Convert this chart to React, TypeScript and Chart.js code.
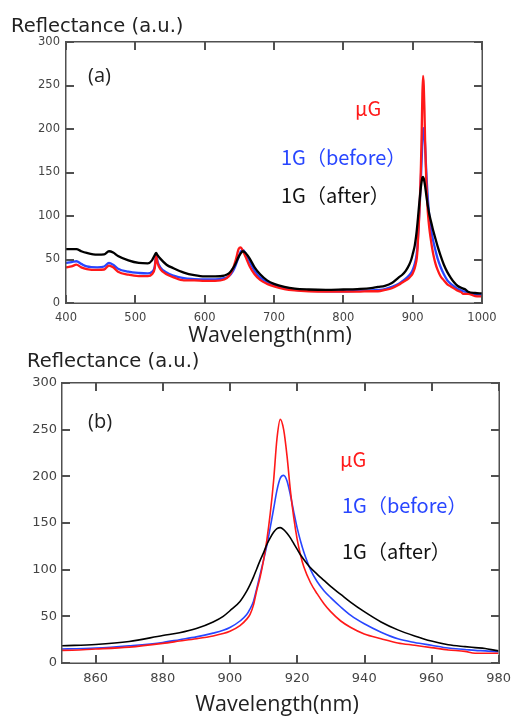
import React, { useEffect, useRef } from "react";
import { Chart, registerables } from "chart.js";

Chart.register(...registerables);

// ---- data ----
const wavelengths = [400, 408, 415, 422, 430, 445, 455, 462, 468, 475, 490, 505, 518, 524, 528, 530, 532, 536, 545, 555, 570, 585, 600, 615, 628, 635, 641, 645, 649, 652, 655, 659, 665, 672, 680, 690, 700, 715, 730, 750, 775, 800, 820, 840, 850, 860, 870, 880, 885, 890, 895, 898, 900, 903, 905, 906, 907, 908, 909, 910, 911, 912, 913, 914, 915, 916, 917, 918, 919, 920, 921, 922, 924, 926, 928, 930, 933, 936, 940, 945, 950, 955, 960, 965, 970, 973, 976, 980, 990, 1000];

const afterValues = [62, 62, 62, 59.5, 57.5, 55.5, 56, 59.5, 58, 54, 49, 46, 45.5, 49, 55, 57.5, 55, 51, 44, 40, 35, 32, 30.5, 30.5, 31.5, 34, 40, 46, 53, 57, 59.5, 57.5, 51, 41, 33, 26, 22, 18.5, 16.5, 15.5, 15, 15.5, 16, 17, 18.5, 19.8, 23, 29.5, 32.5, 37, 44, 50, 56, 66, 77, 84, 92, 101, 110, 118, 127, 134, 140, 144, 145, 143, 139, 134, 128, 122, 116, 111, 102, 95, 88.5, 82, 73.5, 65, 55, 44, 35.5, 29, 23.5, 19.5, 17.5, 16.5, 15.5, 13, 11.5, 11];

const beforeValues = [46, 47, 48, 45, 42, 41, 42, 46, 44, 39.5, 36, 34.5, 34, 36, 42, 56, 48, 41, 35, 31.5, 28.5, 27.5, 27, 27, 28.5, 31, 37, 44, 53, 59, 61, 57, 47, 37, 29.5, 24, 20.5, 17, 15, 14, 13.5, 13.5, 14, 14.5, 15, 16, 18.5, 22, 25, 28, 32, 35, 38, 45, 52, 58, 66, 80, 95, 110, 126, 145, 165, 185, 198, 201, 195, 180, 162, 145, 131, 119, 100, 87, 77.5, 70, 60, 51, 42, 33, 26, 22, 19, 16, 14.5, 13.5, 13, 12, 10, 9.5];

const muGValues = [41, 42, 44, 41, 39, 38, 38.5, 43, 41, 36, 32.5, 31, 31, 33, 40, 54, 46, 39, 33, 29.5, 26, 26, 25.5, 25.5, 27, 31, 40, 50, 62, 64, 60, 53, 42, 33, 26.5, 22, 19, 16, 14.5, 13.5, 13, 13, 13, 13.5, 13.5, 15, 17, 21, 23.5, 26, 29, 31.5, 34, 40, 47, 52, 62, 78, 92, 110, 132, 160, 195, 240, 261, 250, 222, 185, 156, 133, 116, 103, 86, 74, 63.5, 55, 45, 38, 31, 26, 21.5, 19, 16.5, 14, 12.5, 10.5, 10.5, 10.5, 8, 7.5];

const xTicksA = [400, 500, 600, 700, 800, 900, 1000];
const xTicksB = [860, 880, 900, 920, 940, 960, 980];
const yTicks = [0, 50, 100, 150, 200, 250, 300];

const seriesNames = ["μG", "1G（before）", "1G（after）"];
const seriesColors = ["rgb(255,25,25)", "rgb(40,70,255)", "#000000"];

const FRAME_COLOR = "#505050";
const TICK_LEN = 8;
const TICK_W = 2;

const pts = (vals: number[]) => wavelengths.map((x, i) => ({ x, y: vals[i] }));

type Txt = { text: string; x: number; y: number; font: string; color: string; align?: string };

function makeDecor(texts: Txt[], xTickVals: number[], xMin: number, xMax: number, yMin: number, yMax: number) {
  return {
    id: "decor",
    afterDraw(chart: any) {
      const ctx = chart.ctx as CanvasRenderingContext2D;
      const ca = chart.chartArea;
      const left = Math.round(ca.left);
      const right = Math.round(ca.right);
      const top = Math.round(ca.top);
      const bottom = Math.round(ca.bottom);
      const xPix = (v: number) => left + ((v - xMin) / (xMax - xMin)) * (right - left);
      const yPix = (v: number) => bottom - ((v - yMin) / (yMax - yMin)) * (bottom - top);
      ctx.save();
      ctx.globalAlpha = 1;
      ctx.globalCompositeOperation = "source-over";
      ctx.fillStyle = FRAME_COLOR;
      // frame
      ctx.fillRect(left - 1, top - 1, right - left + 2, 1.5);
      ctx.fillRect(left - 1, bottom - 0.5, right - left + 2, 1.5);
      ctx.fillRect(left - 1, top - 1, 1.5, bottom - top + 2);
      ctx.fillRect(right - 0.5, top - 1, 1.5, bottom - top + 2);
      // inward ticks on all four sides
      for (let i = 0; i < xTickVals.length; i++) {
        const px = Math.round(xPix(xTickVals[i]));
        ctx.fillRect(px - 1, bottom - TICK_LEN, TICK_W, TICK_LEN);
        ctx.fillRect(px - 1, top, TICK_W, TICK_LEN);
      }
      for (let i = 0; i < yTicks.length; i++) {
        const py = Math.round(yPix(yTicks[i]));
        ctx.fillRect(left, py - 1, TICK_LEN, TICK_W);
        ctx.fillRect(right - TICK_LEN, py - 1, TICK_LEN, TICK_W);
      }
      for (let i = 0; i < texts.length; i++) {
        const t = texts[i];
        ctx.font = t.font;
        ctx.fillStyle = t.color;
        ctx.textAlign = (t.align || "left") as CanvasTextAlign;
        ctx.textBaseline = "alphabetic";
        ctx.fillText(t.text, t.x, t.y);
      }
      ctx.restore();
    },
  };
}

function makeConfig(panel: "a" | "b"): any {
  const isA = panel === "a";
  const lw = isA ? 2.3 : 1.6;
  const labelFont = '20px "Noto Sans CJK JP", "Noto Sans", sans-serif';
  const titleFont = '19.5px "DejaVu Sans", sans-serif';
  const axisFont = '21.5px "Open Sans", sans-serif';
  const panelFont = '20px "Open Sans", sans-serif';
  const texts: Txt[] = isA
    ? [
        { text: "Reflectance (a.u.)", x: 11, y: 32, font: titleFont, color: "#222" },
        { text: "Wavelength(nm)", x: 270, y: 342, font: axisFont, color: "#222", align: "center" },
        { text: "(a)", x: 88, y: 82, font: panelFont, color: "#222" },
        { text: seriesNames[0], x: 355, y: 116, font: labelFont, color: seriesColors[0] },
        { text: seriesNames[1], x: 281, y: 165, font: labelFont, color: seriesColors[1] },
        { text: seriesNames[2], x: 281, y: 203, font: labelFont, color: "#111" },
      ]
    : [
        { text: "Reflectance (a.u.)", x: 27, y: 16.5, font: titleFont, color: "#222" },
        { text: "Wavelength(nm)", x: 277, y: 361, font: axisFont, color: "#222", align: "center" },
        { text: "(b)", x: 88, y: 78, font: panelFont, color: "#222" },
        { text: seriesNames[0], x: 340, y: 117, font: labelFont, color: seriesColors[0] },
        { text: seriesNames[1], x: 342, y: 163, font: labelFont, color: seriesColors[1] },
        { text: seriesNames[2], x: 342, y: 209, font: labelFont, color: "#111" },
      ];
  const valueSets = [muGValues, beforeValues, afterValues];
  const orders = [2, 3, 1];
  const tickFamily = '"DejaVu Sans", sans-serif';
  const xTickVals = isA ? xTicksA : xTicksB;
  const xMin = isA ? 400 : 850;
  const xMax = isA ? 1000 : 980;
  return {
    type: "line",
    data: {
      datasets: valueSets.map((vals, i) => ({
        label: seriesNames[i],
        data: pts(vals),
        borderColor: seriesColors[i],
        backgroundColor: seriesColors[i],
        borderWidth: lw,
        pointRadius: 0,
        cubicInterpolationMode: "monotone",
        order: orders[i],
      })),
    },
    options: {
      responsive: false,
      animation: false,
      events: [],
      layout: { padding: isA ? { top: 42, right: 37, left: 0, bottom: 0 } : { top: 33, right: 13, left: 0, bottom: 0 } },
      plugins: {
        legend: { display: false },
        tooltip: { enabled: false },
      },
      scales: {
        x: {
          type: "linear",
          min: xMin,
          max: xMax,
          afterBuildTicks: (s: any) => {
            s.ticks = xTickVals.map((v) => ({ value: v }));
          },
          afterFit: (s: any) => {
            s.height = isA ? 47 : 53;
          },
          grid: { display: false, drawTicks: false },
          border: { display: false },
          ticks: {
            color: "#444",
            font: { family: tickFamily, size: isA ? 11.5 : 13 },
            padding: 8,
            maxRotation: 0,
            autoSkip: false,
            callback: (v: any) => String(v),
          },
        },
        y: {
          min: 0,
          max: 300,
          afterBuildTicks: (s: any) => {
            s.ticks = yTicks.map((v) => ({ value: v }));
          },
          afterFit: (s: any) => {
            s.width = isA ? 66 : 62;
          },
          grid: { display: false, drawTicks: false },
          border: { display: false },
          ticks: {
            color: "#444",
            font: { family: tickFamily, size: isA ? 11.5 : 13 },
            padding: isA ? 6 : 5,
            autoSkip: false,
            callback: (v: any) => String(v),
          },
        },
      },
    },
    plugins: [makeDecor(texts, xTickVals, xMin, xMax, 0, 300)],
  };
}

function Panel({ panel, top, height }: { panel: "a" | "b"; top: number; height: number }) {
  const ref = useRef<HTMLCanvasElement | null>(null);
  useEffect(() => {
    if (!ref.current) return;
    const chart = new Chart(ref.current, makeConfig(panel));
    return () => chart.destroy();
  }, [panel]);
  return (
    <canvas
      ref={ref}
      width={519}
      height={height}
      style={{ position: "absolute", left: 0, top, width: 519, height }}
    />
  );
}

export default function App() {
  useEffect(() => {
    document.body.style.margin = "0";
    document.body.style.background = "#fff";
  }, []);
  return (
    <div style={{ position: "absolute", left: 0, top: 0, width: 519, height: 716, background: "#fff", overflow: "hidden" }}>
      <Panel panel="a" top={0} height={350} />
      <Panel panel="b" top={350} height={366} />
    </div>
  );
}
